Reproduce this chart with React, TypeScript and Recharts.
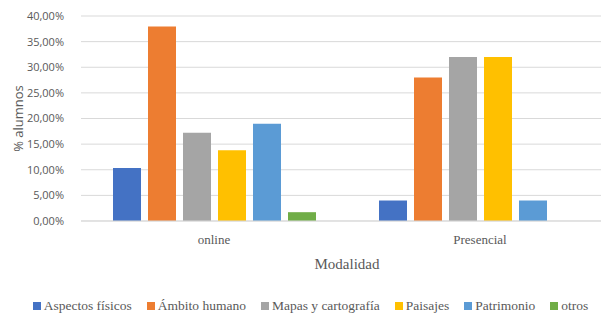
import { Bar, BarChart, CartesianGrid, Legend, XAxis, YAxis } from "recharts";

const modalidades = ["online", "Presencial"];
const temas = [
  "Aspectos físicos",
  "Ámbito humano",
  "Mapas y cartografía",
  "Paisajes",
  "Patrimonio",
  "otros",
];
const colores = ["#4472C4", "#ED7D31", "#A5A5A5", "#FFC000", "#5B9BD5", "#70AD47"];

// porcentaje de alumnos por tema (online, Presencial)
const aspectosFisicos = [0.1034, 0.04];
const ambitoHumano = [0.3793, 0.28];
const mapasCartografia = [0.1724, 0.32];
const paisajes = [0.1379, 0.32];
const patrimonio = [0.1897, 0.04];
const otros = [0.0172, 0];

const yTicks = [0, 0.05, 0.1, 0.15, 0.2, 0.25, 0.3, 0.35, 0.4];

const series = [aspectosFisicos, ambitoHumano, mapasCartografia, paisajes, patrimonio, otros];

const data = modalidades.map((m, i) => {
  const row: Record<string, string | number> = { modalidad: m };
  temas.forEach((t, j) => {
    row[t] = series[j][i];
  });
  return row;
});

const pct = (v: number) => (v * 100).toFixed(2).replace(".", ",") + "%";

const serif = "'Liberation Serif', serif";

const LegendContent = () => (
  <div
    style={{
      display: "flex",
      justifyContent: "center",
      alignItems: "center",
      height: 18,
      lineHeight: "18px",
      fontFamily: serif,
      fontSize: 13.5,
      color: "#595959",
      gap: 15,
    }}
  >
    {temas.map((t, i) => (
      <div key={t} style={{ display: "flex", alignItems: "center", gap: 3 }}>
        <div style={{ width: 8, height: 8, backgroundColor: colores[i] }} />
        <span style={{ whiteSpace: "nowrap", fontFamily: serif }}>{t}</span>
      </div>
    ))}
  </div>
);

const App = () => {
  return (
    <div
      style={{
        position: "fixed",
        left: 0,
        top: 0,
        width: 601,
        height: 315,
        overflow: "hidden",
        background: "#fff",
      }}
    >
      <BarChart
        width={613}
        height={315}
        data={data}
        margin={{ top: 16, right: 0, bottom: 0, left: 0 }}
        barSize={28}
        barGap={7}
      >
        <CartesianGrid vertical={false} stroke="#d9d9d9" />
        <XAxis
          dataKey="modalidad"
          height={76}
          axisLine={{ stroke: "#d9d9d9" }}
          tickLine={false}
          tickMargin={8}
          tick={{ fontFamily: serif, fontSize: 13, fill: "#595959" }}
          label={{
            content: ({ viewBox }: any) => (
              <text
                x={viewBox.x + viewBox.width / 2}
                y={viewBox.y + 48}
                textAnchor="middle"
                style={{ fontFamily: serif }}
                fontSize={15}
                fill="#595959"
              >
                Modalidad
              </text>
            ),
          }}
        />
        <YAxis
          width={81}
          domain={[0, 0.4]}
          ticks={yTicks}
          tickFormatter={pct}
          axisLine={false}
          tickLine={false}
          tickMargin={11}
          tick={{ fontFamily: "Open Sans", fontSize: 11, fill: "#595959" }}
          label={{
            content: ({ viewBox }: any) => {
              const cx = 18;
              const cy = viewBox.y + viewBox.height / 2;
              return (
                <text
                  x={cx}
                  y={cy}
                  transform={`rotate(-90 ${cx} ${cy})`}
                  textAnchor="middle"
                  dominantBaseline="central"
                  fontFamily="Open Sans"
                  fontSize={13}
                  fill="#595959"
                >
                  % alumnos
                </text>
              );
            },
          }}
        />
        <Legend
          verticalAlign="bottom"
          content={<LegendContent />}
          wrapperStyle={{ left: 20, width: 581 }}
        />
        {temas.map((t, i) => (
          <Bar key={t} dataKey={t} fill={colores[i]} isAnimationActive={false} />
        ))}
      </BarChart>
    </div>
  );
};

export default App;
